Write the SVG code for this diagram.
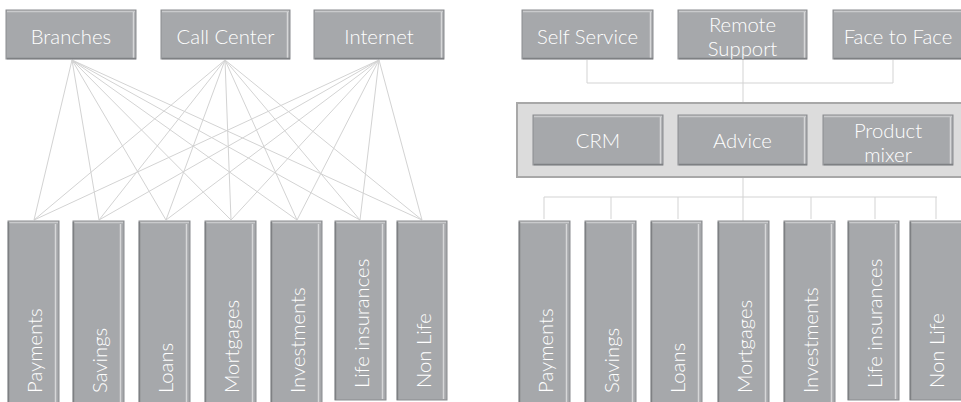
<svg xmlns="http://www.w3.org/2000/svg" width="961" height="402" viewBox="0 0 961 402">
<style>
.box{fill:#a6a8ab;stroke:#8a8c8f;stroke-width:1}
.hl{stroke:#c9cacc;stroke-width:1.5;fill:none}
.hr{stroke:#d6d7d8;stroke-width:1.5;fill:none}
.sh{stroke:#7e8083;stroke-width:1.5;fill:none}
.t{font-family:Lato,"Liberation Sans",sans-serif;font-weight:300;font-size:20.3px;fill:#ffffff}
.c{text-anchor:middle}
.ln{stroke:#d3d3d3;stroke-width:1;fill:none}
.cont{fill:#dcdcdc;stroke:#a8a8a8;stroke-width:2}
</style>
<defs>
<g id="colshape">
<rect class="box" x="0" y="0" width="51" height="200"/>
<line class="hl" x1="1" y1="1.5" x2="50" y2="1.5"/>
<line class="hr" x1="47.5" y1="3" x2="47.5" y2="199"/>
<line class="sh" x1="0.5" y1="1" x2="0.5" y2="199"/>
</g>
</defs>
<g id="connectors">
<path class="ln" d="M72 60L34 220M72 60L99 220M72 60L166 220M72 60L231 220M72 60L297 220M72 60L360 220M72 60L422 220"/>
<path class="ln" d="M225 60L34 220M225 60L99 220M225 60L166 220M225 60L231 220M225 60L297 220M225 60L360 220M225 60L422 220"/>
<path class="ln" d="M379 60L34 220M379 60L99 220M379 60L166 220M379 60L231 220M379 60L297 220M379 60L360 220M379 60L422 220"/>
<path class="ln" d="M587 60V83H893V60M743 57V103"/>
<path class="ln" d="M743 177V221M544 197H937M544 197V219M611 197V219M678 197V219M811 197V219M875 197V219M936 197V219"/>
</g>
<g id="branches">
<rect class="box" x="6" y="10" width="130" height="49"/>
<line class="hl" x1="7" y1="11.5" x2="135" y2="11.5"/><line class="hr" x1="133.5" y1="12" x2="133.5" y2="58"/><line class="sh" x1="7" y1="58.5" x2="136" y2="58.5"/>
<text class="t c" x="71" y="44">Branches</text>
</g>
<g id="callcenter">
<rect class="box" x="161" y="10" width="129" height="49"/>
<line class="hl" x1="162" y1="11.5" x2="289" y2="11.5"/><line class="hr" x1="287.5" y1="12" x2="287.5" y2="58"/><line class="sh" x1="162" y1="58.5" x2="290" y2="58.5"/>
<text class="t c" x="225.5" y="44">Call Center</text>
</g>
<g id="internet">
<rect class="box" x="314" y="10" width="130" height="49"/>
<line class="hl" x1="315" y1="11.5" x2="443" y2="11.5"/><line class="hr" x1="441.5" y1="12" x2="441.5" y2="58"/><line class="sh" x1="315" y1="58.5" x2="444" y2="58.5"/>
<text class="t c" x="379" y="44">Internet</text>
</g>
<g id="selfservice">
<rect class="box" x="522" y="10" width="131" height="49"/>
<line class="hl" x1="523" y1="11.5" x2="652" y2="11.5"/><line class="hr" x1="650.5" y1="12" x2="650.5" y2="58"/><line class="sh" x1="523" y1="58.5" x2="653" y2="58.5"/>
<text class="t c" x="587.5" y="44">Self Service</text>
</g>
<g id="remotesupport">
<rect class="box" x="678" y="10" width="129" height="49"/>
<line class="hl" x1="679" y1="11.5" x2="806" y2="11.5"/><line class="hr" x1="804.5" y1="12" x2="804.5" y2="58"/><line class="sh" x1="679" y1="58.5" x2="807" y2="58.5"/>
<text class="t c" x="742.5" y="32">Remote</text>
<text class="t c" x="742.5" y="56">Support</text>
</g>
<g id="facetoface">
<rect class="box" x="833" y="10" width="130" height="49"/>
<line class="hl" x1="834" y1="11.5" x2="962" y2="11.5"/><line class="sh" x1="834" y1="58.5" x2="963" y2="58.5"/>
<text class="t c" x="898" y="44">Face to Face</text>
</g>
<g id="container">
<rect class="cont" x="517" y="103" width="450" height="74"/>
</g>
<g id="crm">
<rect class="box" x="533" y="115" width="130" height="50"/>
<line class="hl" x1="534" y1="116.5" x2="662" y2="116.5"/><line class="hr" x1="660.5" y1="117" x2="660.5" y2="164"/><line class="sh" x1="534" y1="164.5" x2="663" y2="164.5"/>
<text class="t c" x="598" y="148">CRM</text>
</g>
<g id="advice">
<rect class="box" x="678" y="115" width="129" height="50"/>
<line class="hl" x1="679" y1="116.5" x2="806" y2="116.5"/><line class="hr" x1="804.5" y1="117" x2="804.5" y2="164"/><line class="sh" x1="679" y1="164.5" x2="807" y2="164.5"/>
<text class="t c" x="742.5" y="148">Advice</text>
</g>
<g id="productmixer">
<rect class="box" x="823" y="115" width="130" height="50"/>
<line class="hl" x1="824" y1="116.5" x2="952" y2="116.5"/><line class="hr" x1="950.5" y1="117" x2="950.5" y2="164"/><line class="sh" x1="824" y1="164.5" x2="953" y2="164.5"/>
<text class="t c" x="888" y="138">Product</text>
<text class="t c" x="888" y="162">mixer</text>
</g>
<g id="l-payments"><use href="#colshape" x="8" y="221"/><text class="t" transform="translate(42 393) rotate(-90)">Payments</text></g>
<g id="l-savings"><use href="#colshape" x="73" y="221"/><text class="t" transform="translate(107 393) rotate(-90)">Savings</text></g>
<g id="l-loans"><use href="#colshape" x="139" y="221"/><text class="t" transform="translate(173 393) rotate(-90)">Loans</text></g>
<g id="l-mortgages"><use href="#colshape" x="205" y="221"/><text class="t" transform="translate(239 393) rotate(-90)">Mortgages</text></g>
<g id="l-investments"><use href="#colshape" x="271" y="221"/><text class="t" transform="translate(305 393) rotate(-90)">Investments</text></g>
<g id="l-life"><rect class="box" x="335" y="221" width="51" height="179"/><line class="hl" x1="336" y1="222.5" x2="385" y2="222.5"/><line class="hr" x1="382.5" y1="224" x2="382.5" y2="399"/><line class="sh" x1="335.5" y1="222" x2="335.5" y2="400"/><text class="t" transform="translate(369 388) rotate(-90)">Life insurances</text></g>
<g id="l-nonlife"><rect class="box" x="397" y="221" width="50" height="179"/><line class="hl" x1="398" y1="222.5" x2="446" y2="222.5"/><line class="hr" x1="443.5" y1="224" x2="443.5" y2="399"/><line class="sh" x1="397.5" y1="222" x2="397.5" y2="400"/><text class="t" transform="translate(431 388) rotate(-90)">Non Life</text></g>
<g id="r-payments"><use href="#colshape" x="519" y="221"/><text class="t" transform="translate(553 393) rotate(-90)">Payments</text></g>
<g id="r-savings"><use href="#colshape" x="585" y="221"/><text class="t" transform="translate(619 393) rotate(-90)">Savings</text></g>
<g id="r-loans"><use href="#colshape" x="651" y="221"/><text class="t" transform="translate(685 393) rotate(-90)">Loans</text></g>
<g id="r-mortgages"><use href="#colshape" x="718" y="221"/><text class="t" transform="translate(752 393) rotate(-90)">Mortgages</text></g>
<g id="r-investments"><use href="#colshape" x="784" y="221"/><text class="t" transform="translate(818 393) rotate(-90)">Investments</text></g>
<g id="r-life"><rect class="box" x="848" y="221" width="51" height="179"/><line class="hl" x1="849" y1="222.5" x2="898" y2="222.5"/><line class="hr" x1="895.5" y1="224" x2="895.5" y2="399"/><line class="sh" x1="848.5" y1="222" x2="848.5" y2="400"/><text class="t" transform="translate(882 388) rotate(-90)">Life insurances</text></g>
<g id="r-nonlife"><rect class="box" x="910" y="221" width="52" height="179"/><line class="hl" x1="911" y1="222.5" x2="961" y2="222.5"/><line class="sh" x1="910.5" y1="222" x2="910.5" y2="400"/><text class="t" transform="translate(944 388) rotate(-90)">Non Life</text></g>
</svg>
